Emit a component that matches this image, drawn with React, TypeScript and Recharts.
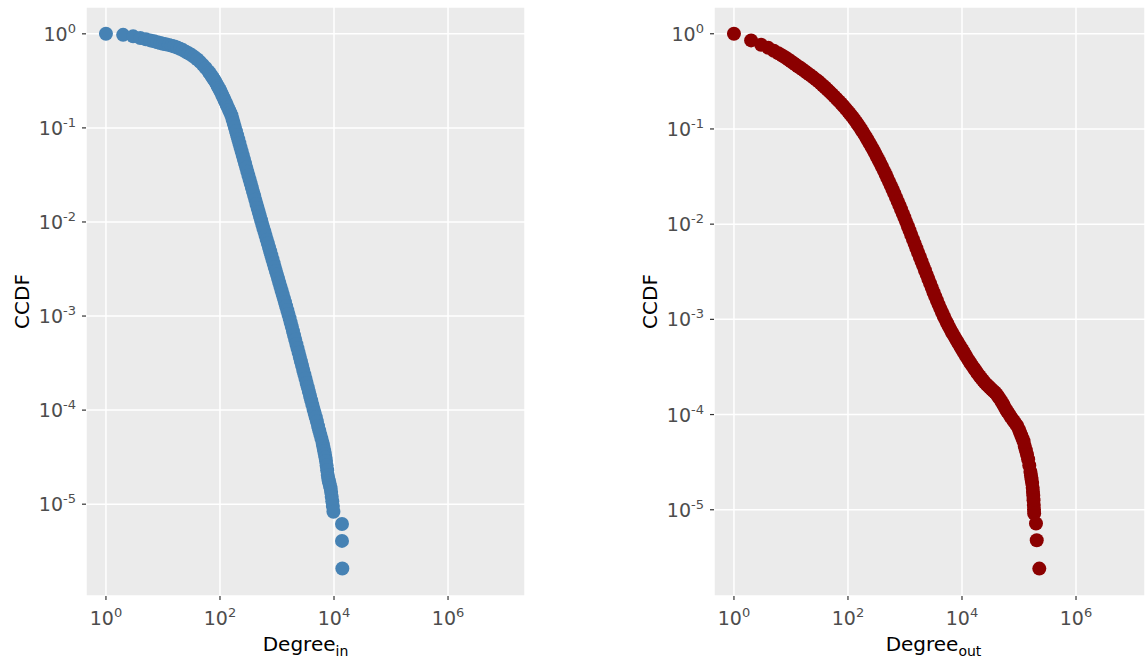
import React from "react";
import { CartesianGrid, Label, Scatter, ScatterChart, XAxis, YAxis } from "recharts";

// values, stored as log10 exponents
const inLogDegree = [
  0, 0.301, 0.477, 0.602, 0.699, 0.778, 0.845, 0.903, 0.954, 1.0,
  1.05, 1.1, 1.15, 1.2, 1.25, 1.3, 1.35, 1.4, 1.45, 1.5,
  1.55, 1.6, 1.65, 1.7, 1.75, 1.8, 1.82, 1.84, 1.86, 1.88,
  1.9, 1.92, 1.94, 1.96, 1.98, 2.0, 2.02, 2.04, 2.06, 2.08,
  2.1, 2.12, 2.14, 2.16, 2.18, 2.2, 2.22, 2.24, 2.26, 2.28,
  2.3, 2.32, 2.34, 2.36, 2.38, 2.4, 2.42, 2.44, 2.46, 2.48,
  2.5, 2.52, 2.54, 2.56, 2.58, 2.6, 2.62, 2.64, 2.66, 2.68,
  2.7, 2.72, 2.74, 2.76, 2.78, 2.8, 2.82, 2.84, 2.86, 2.88,
  2.9, 2.92, 2.94, 2.96, 2.98, 3.0, 3.02, 3.04, 3.06, 3.08,
  3.1, 3.12, 3.14, 3.16, 3.18, 3.2, 3.22, 3.24, 3.26, 3.28,
  3.3, 3.32, 3.34, 3.36, 3.38, 3.4, 3.42, 3.44, 3.46, 3.48,
  3.5, 3.52, 3.54, 3.56, 3.58, 3.6, 3.62, 3.64, 3.66, 3.68,
  3.7, 3.72, 3.74, 3.76, 3.78, 3.8, 3.81, 3.82, 3.83, 3.84,
  3.85, 3.86, 3.87, 3.88, 3.89, 3.9, 3.91, 3.92, 3.93, 3.94,
  3.95, 3.96, 3.97, 3.98, 3.99, 4.14, 4.14, 4.146,
];
const inLogCcdf = [
  0, -0.011, -0.027, -0.045, -0.058, -0.07, -0.08, -0.09, -0.097, -0.105,
  -0.111, -0.118, -0.126, -0.135, -0.146, -0.158, -0.173, -0.19, -0.207, -0.225,
  -0.246, -0.27, -0.298, -0.33, -0.363, -0.4, -0.418, -0.436, -0.453, -0.471,
  -0.49, -0.51, -0.532, -0.554, -0.577, -0.6, -0.625, -0.65, -0.677, -0.703,
  -0.73, -0.757, -0.784, -0.811, -0.838, -0.866, -0.906, -0.948, -0.99, -1.034,
  -1.078, -1.121, -1.164, -1.207, -1.25, -1.293, -1.336, -1.379, -1.422, -1.465,
  -1.508, -1.551, -1.594, -1.637, -1.68, -1.722, -1.765, -1.808, -1.851, -1.894,
  -1.937, -1.98, -2.021, -2.063, -2.104, -2.146, -2.188, -2.229, -2.271, -2.312,
  -2.354, -2.396, -2.437, -2.479, -2.52, -2.562, -2.604, -2.645, -2.687, -2.728,
  -2.77, -2.812, -2.853, -2.895, -2.937, -2.978, -3.022, -3.068, -3.114, -3.16,
  -3.206, -3.252, -3.298, -3.344, -3.39, -3.436, -3.482, -3.528, -3.574, -3.62,
  -3.666, -3.712, -3.758, -3.804, -3.85, -3.896, -3.942, -3.988, -4.03, -4.075,
  -4.12, -4.17, -4.215, -4.26, -4.305, -4.35, -4.38, -4.41, -4.44, -4.47,
  -4.505, -4.54, -4.59, -4.64, -4.69, -4.73, -4.755, -4.78, -4.805, -4.83,
  -4.87, -4.92, -4.97, -5.02, -5.08, -5.21, -5.39, -5.684,
];

const outLogDegree = [
  0, 0.301, 0.477, 0.602, 0.699, 0.778, 0.845, 0.903, 0.954, 1.0,
  1.04, 1.08, 1.12, 1.16, 1.2, 1.24, 1.28, 1.32, 1.36, 1.4,
  1.44, 1.48, 1.52, 1.56, 1.6, 1.64, 1.68, 1.72, 1.76, 1.8,
  1.84, 1.88, 1.92, 1.96, 2.0, 2.03, 2.06, 2.09, 2.12, 2.15,
  2.18, 2.21, 2.24, 2.27, 2.3, 2.33, 2.36, 2.39, 2.42, 2.45,
  2.48, 2.51, 2.54, 2.57, 2.6, 2.63, 2.66, 2.69, 2.72, 2.75,
  2.78, 2.81, 2.84, 2.87, 2.9, 2.93, 2.96, 2.99, 3.02, 3.05,
  3.08, 3.11, 3.14, 3.17, 3.2, 3.23, 3.26, 3.29, 3.32, 3.35,
  3.38, 3.41, 3.44, 3.47, 3.5, 3.53, 3.56, 3.59, 3.62, 3.65,
  3.68, 3.71, 3.74, 3.77, 3.8, 3.83, 3.86, 3.89, 3.92, 3.95,
  3.98, 4.01, 4.04, 4.07, 4.1, 4.13, 4.16, 4.19, 4.22, 4.25,
  4.28, 4.31, 4.34, 4.37, 4.4, 4.43, 4.46, 4.49, 4.52, 4.55,
  4.58, 4.61, 4.64, 4.67, 4.7, 4.73, 4.76, 4.79, 4.82, 4.85,
  4.88, 4.91, 4.94, 4.97, 5.0, 5.02, 5.04, 5.06, 5.08, 5.1,
  5.12, 5.14, 5.16, 5.18, 5.2, 5.21, 5.22, 5.23, 5.24, 5.245,
  5.25, 5.255, 5.26, 5.263, 5.266, 5.298, 5.311, 5.356,
];
const outLogCcdf = [
  0, -0.07, -0.115, -0.148, -0.178, -0.205, -0.228, -0.25, -0.27, -0.29,
  -0.307, -0.324, -0.341, -0.357, -0.374, -0.392, -0.409, -0.427, -0.445, -0.463,
  -0.482, -0.5, -0.521, -0.543, -0.565, -0.588, -0.61, -0.634, -0.658, -0.683,
  -0.708, -0.733, -0.759, -0.787, -0.815, -0.837, -0.86, -0.882, -0.907, -0.932,
  -0.958, -0.984, -1.013, -1.041, -1.07, -1.1, -1.131, -1.162, -1.194, -1.227,
  -1.26, -1.294, -1.329, -1.365, -1.4, -1.438, -1.476, -1.514, -1.554, -1.593,
  -1.633, -1.674, -1.716, -1.758, -1.8, -1.843, -1.887, -1.93, -1.976, -2.022,
  -2.067, -2.113, -2.16, -2.206, -2.253, -2.299, -2.345, -2.392, -2.438, -2.484,
  -2.53, -2.576, -2.622, -2.668, -2.715, -2.759, -2.802, -2.845, -2.887, -2.927,
  -2.967, -3.005, -3.041, -3.076, -3.11, -3.142, -3.173, -3.205, -3.235, -3.265,
  -3.295, -3.325, -3.355, -3.385, -3.415, -3.443, -3.47, -3.497, -3.522, -3.548,
  -3.573, -3.598, -3.62, -3.643, -3.665, -3.683, -3.7, -3.718, -3.735, -3.752,
  -3.769, -3.79, -3.815, -3.84, -3.87, -3.9, -3.935, -3.965, -3.99, -4.02,
  -4.045, -4.07, -4.095, -4.12, -4.16, -4.19, -4.22, -4.25, -4.28, -4.33,
  -4.375, -4.42, -4.47, -4.535, -4.6, -4.64, -4.68, -4.72, -4.77, -4.81,
  -4.85, -4.9, -4.95, -5.0, -5.04, -5.145, -5.32, -5.618,
];

const xTicks = [1, 100, 10000, 1000000];
const yTicks = [1, 0.1, 0.01, 0.001, 0.0001, 0.00001];

const toPoints = (lx: number[], ly: number[]) =>
  lx.map((d, i) => ({ x: Math.pow(10, d), y: Math.pow(10, ly[i]) }));

const inPoints = toPoints(inLogDegree, inLogCcdf);
const outPoints = toPoints(outLogDegree, outLogCcdf);

const FONT = "'DejaVu Sans', Verdana, sans-serif";

const expText = (v: number) => {
  const e = Math.round(Math.log10(v));
  return e < 0 ? "-" + Math.abs(e) : String(e);
};

const XTick = (props: any) => {
  const { x, y, payload } = props;
  return (
    <text x={x} y={y + 23} textAnchor="middle" fill="#4D4D4D" fontSize={19} fontFamily={FONT}>
      10<tspan dy={-8} fontSize={13}>{expText(payload.value)}</tspan>
    </text>
  );
};

const YTick = (props: any) => {
  const { x, y, payload } = props;
  return (
    <text x={x - 4} y={y + 7} textAnchor="end" fill="#4D4D4D" fontSize={19} fontFamily={FONT}>
      10<tspan dy={-8} fontSize={13}>{expText(payload.value)}</tspan>
    </text>
  );
};

interface PanelProps {
  points: { x: number; y: number }[];
  color: string;
  sub: string;
  left: number;
  width: number;
  marginRight: number;
  xMax: number;
  yDomain: [number, number];
  titleDx: number;
}

function Panel({ points, color, sub, left, width, marginRight, xMax, yDomain, titleDx }: PanelProps) {
  return (
    <div style={{ position: "absolute", left, top: 0 }}>
      <ScatterChart width={width} height={661} margin={{ top: 7, right: marginRight, bottom: 0, left: 0 }}>
        <CartesianGrid fill="#EBEBEB" fillOpacity={1} stroke="#FFFFFF" strokeWidth={1.5} />
        <XAxis
          type="number"
          dataKey="x"
          scale="log"
          domain={[0.4467, xMax]}
          allowDataOverflow
          ticks={xTicks}
          interval={0}
          height={65}
          axisLine={false}
          tickSize={4}
          tickLine={{ stroke: "#333333", strokeWidth: 1.2 }}
          tick={<XTick />}
        >
          <Label
            content={({ viewBox }: any) => (
              <text
                x={viewBox.x + viewBox.width / 2 + titleDx}
                y={viewBox.y + 55}
                textAnchor="middle"
                fill="#000000"
                fontSize={20}
                fontFamily={FONT}
              >
                Degree<tspan dy={5} fontSize={14}>{sub}</tspan>
              </text>
            )}
          />
        </XAxis>
        <YAxis
          type="number"
          dataKey="y"
          scale="log"
          domain={yDomain}
          allowDataOverflow
          ticks={yTicks}
          interval={0}
          width={86}
          axisLine={false}
          tickSize={4}
          tickLine={{ stroke: "#333333", strokeWidth: 1.2 }}
          tick={<YTick />}
        >
          <Label
            content={({ viewBox }: any) => {
              const cx = viewBox.x + viewBox.width - 57;
              const cy = viewBox.y + viewBox.height / 2;
              return (
                <text
                  x={cx}
                  y={cy}
                  transform={`rotate(-90 ${cx} ${cy})`}
                  textAnchor="middle"
                  fill="#000000"
                  fontSize={20}
                  fontFamily={FONT}
                >
                  CCDF
                </text>
              );
            }}
          />
        </YAxis>
        <Scatter
          data={points}
          isAnimationActive={false}
          shape={(p: any) => <circle cx={p.cx} cy={p.cy} r={7} fill={color} />}
        />
      </ScatterChart>
    </div>
  );
}

export default function App() {
  return (
    <div style={{ position: "relative", width: 1145, height: 661, overflow: "hidden", background: "#FFFFFF" }}>
      <style>{"body{margin:0;overflow:hidden;}"}</style>
      <Panel
        points={inPoints}
        color="#4682B4"
        sub="in"
        left={0}
        width={540}
        marginRight={15}
        xMax={2.2387e7}
        yDomain={[1.057e-6, 1.928]}
        titleDx={0}
      />
      <Panel
        points={outPoints}
        color="#8B0000"
        sub="out"
        left={628}
        width={517}
        marginRight={0}
        xMax={1.622e7}
        yDomain={[1.242e-6, 1.91]}
        titleDx={4}
      />
    </div>
  );
}
